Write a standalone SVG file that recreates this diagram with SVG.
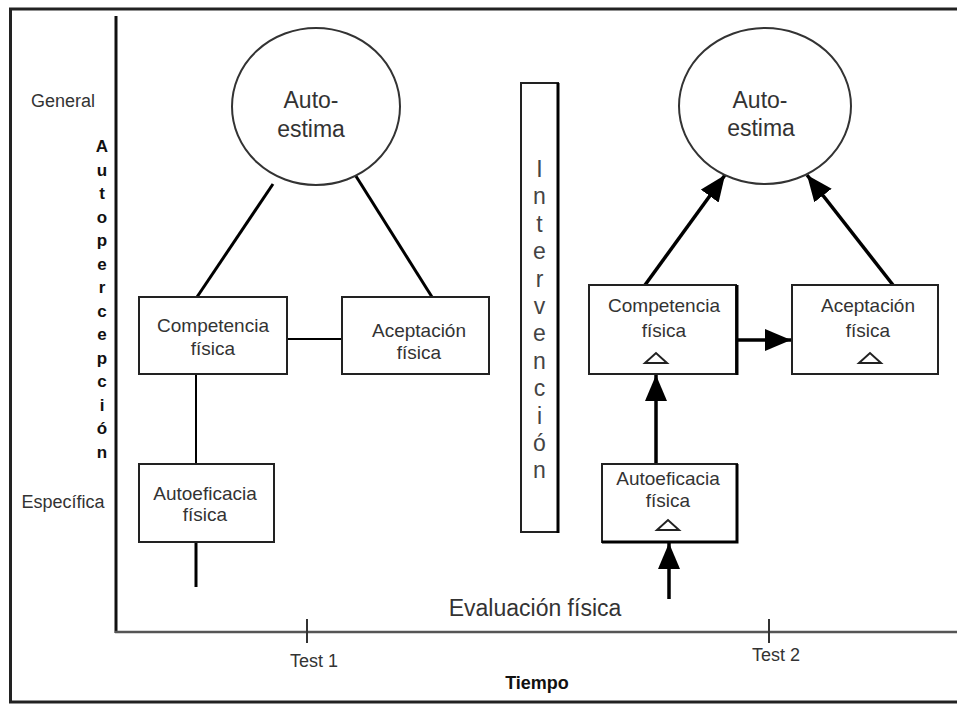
<svg xmlns="http://www.w3.org/2000/svg" width="957" height="704" viewBox="0 0 957 704">
<defs>
<marker id="ah" viewBox="0 0 26 22" refX="26" refY="11" markerWidth="26" markerHeight="22" markerUnits="userSpaceOnUse" orient="auto">
<path d="M0,0 L26,11 L0,22 z" fill="#000"/>
</marker>
<style>
.t{font-family:"Liberation Sans",Arial,sans-serif;fill:#333;text-anchor:middle}
.bx{font-size:19px}
.big{font-size:23px}
.box{fill:#fff;stroke:#222;stroke-width:2}
.ell{fill:#fff;stroke:#333;stroke-width:2}
.ln{stroke:#000;stroke-width:3;fill:none}
.th{stroke:#000;stroke-width:2;fill:none}
.ar{stroke:#000;stroke-width:3.5;fill:none;marker-end:url(#ah)}
.tri{fill:#fff;stroke:#222;stroke-width:2}
</style>
</defs>
<rect x="0" y="0" width="957" height="704" fill="#fff"/>
<g id="frame">
<rect x="10.5" y="9" width="960" height="693" fill="none" stroke="#222" stroke-width="3"/>
</g>
<g id="axes">
<line x1="116" y1="16" x2="116" y2="633" stroke="#111" stroke-width="3"/>
<line x1="115" y1="632" x2="957" y2="632" stroke="#555" stroke-width="2.5"/>
<line x1="307" y1="619" x2="307" y2="643" stroke="#333" stroke-width="2"/>
<line x1="769" y1="619" x2="769" y2="643" stroke="#333" stroke-width="2"/>
<text class="t" x="314" y="667" style="font-size:18px">Test 1</text>
<text class="t" x="776" y="661" style="font-size:18px">Test 2</text>
<text class="t" x="537" y="689" style="font-size:18px;font-weight:bold;fill:#111">Tiempo</text>
<text class="t" x="63" y="107" style="font-size:18px">General</text>
<text class="t" x="63" y="508" style="font-size:18px">Específica</text>
<text class="t" style="font-size:17px;font-weight:bold;fill:#111">
<tspan x="102" y="152">A</tspan><tspan x="102" dy="23.5">u</tspan><tspan x="102" dy="23.5">t</tspan><tspan x="102" dy="23.5">o</tspan><tspan x="102" dy="23.5">p</tspan><tspan x="102" dy="23.5">e</tspan><tspan x="102" dy="23.5">r</tspan><tspan x="102" dy="23.5">c</tspan><tspan x="102" dy="23.5">e</tspan><tspan x="102" dy="23.5">p</tspan><tspan x="102" dy="23.5">c</tspan><tspan x="102" dy="23.5">i</tspan><tspan x="102" dy="23.5">ó</tspan><tspan x="102" dy="23.5">n</tspan>
</text>
<text class="t big" x="535" y="616">Evaluación física</text>
</g>
<g id="connectors">
<line class="ln" x1="273" y1="184" x2="197" y2="297"/>
<line class="ln" x1="354" y1="173" x2="432" y2="297"/>
<line class="th" x1="287" y1="339" x2="342" y2="339"/>
<line class="th" x1="196" y1="374" x2="196" y2="464"/>
<line class="ln" x1="196" y1="542" x2="196" y2="587"/>
<line class="ar" x1="645" y1="285" x2="725" y2="175"/>
<line class="ar" x1="893" y1="285" x2="807" y2="175"/>
<line class="ar" x1="737" y1="340" x2="791" y2="340"/>
<line class="ar" x1="656" y1="464" x2="656" y2="375"/>
<line class="ar" x1="669" y1="599" x2="669" y2="543"/>
</g>
<g id="autoestima1">
<ellipse class="ell" cx="316" cy="106.5" rx="84" ry="78.5"/>
<text class="t big" x="311" y="108">Auto-</text>
<text class="t big" x="311" y="137">estima</text>
</g>
<g id="competencia1">
<rect class="box" x="139" y="297" width="148" height="77"/>
<text class="t bx" x="213" y="332">Competencia</text>
<text class="t bx" x="213" y="355">física</text>
</g>
<g id="aceptacion1">
<rect class="box" x="342" y="297" width="147" height="77"/>
<text class="t bx" x="419" y="337">Aceptación</text>
<text class="t bx" x="419" y="359">física</text>
</g>
<g id="autoeficacia1">
<rect class="box" x="139" y="464" width="135" height="78"/>
<text class="t bx" x="205" y="500">Autoeficacia</text>
<text class="t bx" x="205" y="521">física</text>
</g>
<g id="intervencion">
<rect class="box" x="521" y="83" width="37" height="449"/>
<line x1="558" y1="83" x2="558" y2="533" stroke="#000" stroke-width="3"/>
<text class="t" style="font-size:23px;fill:#444">
<tspan x="539.5" y="177">I</tspan><tspan x="539.5" dy="27.4">n</tspan><tspan x="539.5" dy="27.4">t</tspan><tspan x="539.5" dy="27.4">e</tspan><tspan x="539.5" dy="27.4">r</tspan><tspan x="539.5" dy="27.4">v</tspan><tspan x="539.5" dy="27.4">e</tspan><tspan x="539.5" dy="27.4">n</tspan><tspan x="539.5" dy="27.4">c</tspan><tspan x="539.5" dy="27.4">i</tspan><tspan x="539.5" dy="27.4">ó</tspan><tspan x="539.5" dy="27.4">n</tspan>
</text>
</g>
<g id="autoestima2">
<ellipse class="ell" cx="765" cy="106" rx="86" ry="78"/>
<text class="t big" x="760" y="108">Auto-</text>
<text class="t big" x="761" y="136">estima</text>
</g>
<g id="competencia2">
<rect class="box" x="589" y="285" width="147" height="89"/>
<line x1="737" y1="285" x2="737" y2="375" stroke="#000" stroke-width="3"/>
<text class="t bx" x="664" y="312">Competencia</text>
<text class="t bx" x="664" y="337">física</text>
<path class="tri" d="M645,363 L656,353 L667,363 z"/>
</g>
<g id="aceptacion2">
<rect class="box" x="792" y="285" width="146" height="89"/>
<text class="t bx" x="868" y="312">Aceptación</text>
<text class="t bx" x="868" y="337">física</text>
<path class="tri" d="M859,363 L870,353 L881,363 z"/>
</g>
<g id="autoeficacia2">
<rect class="box" x="602" y="464" width="135" height="78"/>
<path d="M737,464 L737,542 L602,542" stroke="#000" stroke-width="3" fill="none"/>
<text class="t bx" x="668" y="485">Autoeficacia</text>
<text class="t bx" x="668" y="507">física</text>
<path class="tri" d="M657,530 L668,520 L679,530 z"/>
</g>
</svg>
